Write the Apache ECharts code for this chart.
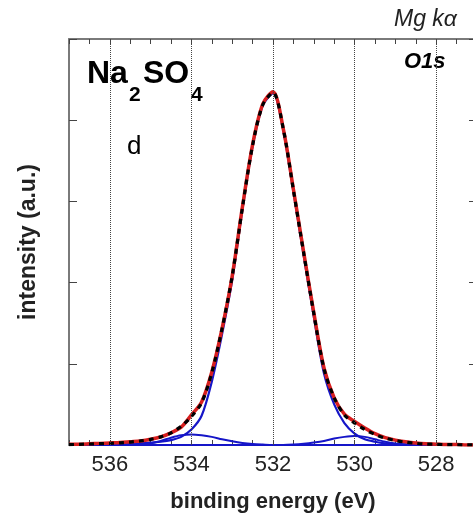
<!DOCTYPE html>
<html>
<head>
<meta charset="utf-8">
<script src="https://cdn.jsdelivr.net/npm/echarts@6/dist/echarts.min.js"></script>
<style>
html,body{margin:0;padding:0;background:#fff;}
#chart{width:473px;height:525px;}
</style>
</head>
<body>
<div id="chart"></div>
<script>
// binding energy (eV)
var energy = [537,536.75,536.5,536.25,536,535.75,535.5,535.25,535,534.75,534.5,534.25,534,533.75,533.5,533.25,533,532.75,532.5,532.25,532,531.75,531.5,531.25,531,530.75,530.5,530.25,530,529.75,529.5,529.25,529,528.75,528.5,528.25,528,527.75,527.5,527.25,527];
// measured spectrum (red)
var measured = [0.01,0.01,0.015,0.02,0.025,0.03,0.04,0.05,0.07,0.10,0.15,0.22,0.37,0.53,0.90,1.43,2.08,2.93,3.70,4.20,4.35,3.90,3.15,2.38,1.63,0.95,0.58,0.38,0.29,0.21,0.14,0.09,0.06,0.04,0.025,0.015,0.01,0.005,0.005,0,0];
// fit envelope (black dashed)
var envelope = [0.005,0.008,0.012,0.016,0.02,0.027,0.036,0.05,0.07,0.10,0.15,0.23,0.35,0.52,0.89,1.43,2.08,2.92,3.69,4.19,4.34,3.90,3.14,2.37,1.62,0.94,0.58,0.37,0.27,0.19,0.13,0.085,0.055,0.035,0.02,0.012,0.008,0.005,0.003,0.002,0];
// main component at 532 eV (blue)
var mainPeak = [0,0,0.005,0.005,0.01,0.01,0.015,0.02,0.03,0.04,0.06,0.10,0.19,0.36,0.78,1.36,2.03,2.90,3.68,4.18,4.33,3.88,3.12,2.34,1.58,0.88,0.50,0.27,0.14,0.07,0.04,0.02,0.01,0.005,0,0,0,0,0,0,0];
// minor component near 534 eV (blue)
var compHigh = [0,0,0,0,0,0,0,0.01,0.02,0.05,0.09,0.12,0.13,0.12,0.10,0.07,0.045,0.025,0.012,0.005,0,0,0,0,0,0,0,0,0,0,0,0,0,0,0,0,0,0,0,0,0];
// minor component near 530 eV (blue)
var compLow = [0,0,0,0,0,0,0,0,0,0,0,0,0,0,0,0,0,0,0,0,0,0,0.005,0.015,0.03,0.05,0.08,0.10,0.11,0.10,0.07,0.04,0.02,0.01,0.005,0,0,0,0,0,0];
// dotted vertical gridlines / labelled ticks
var gridEnergies = [536,534,532,530,528];

function pairs(ys){ return energy.map(function(e,i){ return [e, ys[i]]; }); }

var FONT = "'Liberation Sans', Arial, sans-serif";
var axisGray = '#7a7a7a';
var chart = echarts.init(document.getElementById('chart'));

function xAx(pos, labels){
  return {
    type:'value', position:pos, min:527, max:537, inverse:true, interval:0.5,
    axisLine:{show:true, onZero:false, lineStyle:{color:axisGray, width:2}},
    axisTick:{show:true, inside:true, length:5, lineStyle:{color:'#444', width:1}},
    axisLabel:{show:labels, margin:9, fontFamily:FONT, fontSize:22, color:'#222',
      formatter:function(v){ return Math.abs(v%2)<1e-6 ? String(v) : ''; }},
    splitLine:{show:false}
  };
}
function yAx(pos){
  return {
    type:'value', position:pos, min:0, max:5, interval:1,
    axisLine:{show:true, lineStyle:{color:axisGray, width:2}},
    axisTick:{show:true, inside:true, length:8, lineStyle:{color:'#444', width:1}},
    axisLabel:{show:false}, splitLine:{show:false}
  };
}
var xBottom = xAx('bottom', true);
xBottom.name = 'binding energy (eV)';
xBottom.nameLocation = 'middle';
xBottom.nameGap = 46;
xBottom.nameTextStyle = {fontFamily:FONT, fontSize:22, fontWeight:'bold', color:'#222'};
var xTop = xAx('top', false);
var yLeft = yAx('left');
yLeft.name = 'intensity (a.u.)';
yLeft.nameLocation = 'middle';
yLeft.nameGap = 29;
yLeft.nameTextStyle = {fontFamily:FONT, fontSize:23, fontWeight:'bold', color:'#222'};
var yRight = yAx('right');

chart.setOption({
  animation:false,
  backgroundColor:'#fff',
  grid:{left:69, width:408, top:39, bottom:80, containLabel:false, outerBoundsMode:'none'},
  xAxis:[xBottom, xTop],
  yAxis:[yLeft, yRight],
  series:[
    {type:'line', data:pairs(mainPeak), showSymbol:false, smooth:0.3,
     lineStyle:{color:'#1515c8', width:2.2}, z:2,
     markLine:{silent:true, symbol:['none','none'], label:{show:false},
       lineStyle:{type:'dotted', color:'#444', width:1},
       data:gridEnergies.map(function(e){ return {xAxis:e}; })}},
    {type:'line', data:pairs(compHigh), showSymbol:false, smooth:0.3,
     lineStyle:{color:'#1515c8', width:2}, z:2},
    {type:'line', data:pairs(compLow), showSymbol:false, smooth:0.3,
     lineStyle:{color:'#1515c8', width:2}, z:2},
    {type:'line', data:pairs(measured), showSymbol:false, smooth:0.3,
     lineStyle:{color:'#d81e1e', width:3.5}, z:3},
    {type:'line', data:pairs(envelope), showSymbol:false, smooth:0.3,
     lineStyle:{color:'#000', width:3.2, type:[5,5]}, z:4}
  ],
  graphic:[
    {type:'text', left:87, top:58, style:{text:'Na', font:'bold 32px '+FONT, fill:'#000'}},
    {type:'text', left:129, top:85, style:{text:'2', font:'bold 21px '+FONT, fill:'#000'}},
    {type:'text', left:143, top:58, style:{text:'SO', font:'bold 32px '+FONT, fill:'#000'}},
    {type:'text', left:191, top:85, style:{text:'4', font:'bold 21px '+FONT, fill:'#000'}},
    {type:'text', left:127, top:134, style:{text:'d', font:'26px '+FONT, fill:'#000'}},
    {type:'text', left:404, top:51, style:{text:'O1s', font:'italic bold 22px '+FONT, fill:'#000'}},
    {type:'text', left:394, top:8, style:{text:'Mg k\u03b1', font:'italic 23px '+FONT, fill:'#222'}}
  ]
});
</script>
</body>
</html>
